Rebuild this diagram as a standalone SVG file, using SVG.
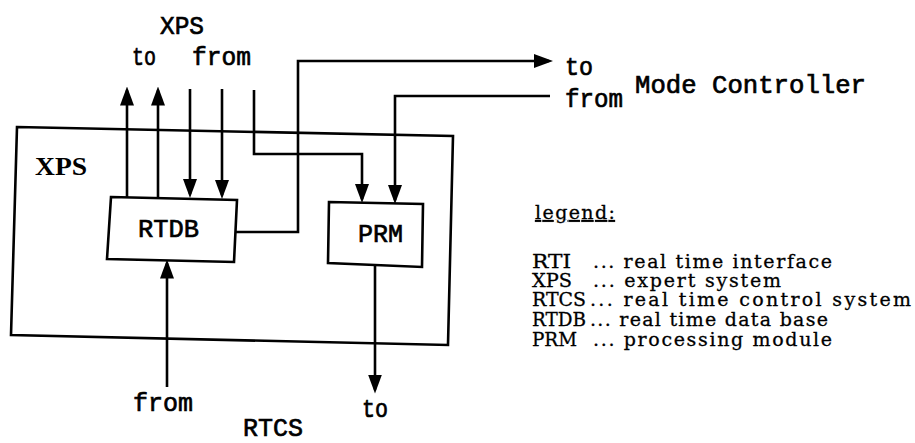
<svg xmlns="http://www.w3.org/2000/svg" width="915" height="443" viewBox="0 0 915 443">
<style>
  .box { fill: none; stroke: #000; stroke-width: 2.6; stroke-linejoin: miter; }
  .wire { fill: none; stroke: #000; stroke-width: 2.6; stroke-linejoin: miter; }
  .plot { font-family: "Liberation Mono", "DejaVu Sans Mono", monospace; font-size: 26px; font-weight: normal; fill: #000; stroke: #000; stroke-width: 0.7; }
  .ser { font-family: "DejaVu Serif", "Liberation Serif", serif; font-size: 19px; fill: #000; stroke: #000; stroke-width: 0.3; }
  .title { font-family: "Liberation Serif", serif; font-size: 26px; font-weight: bold; fill: #000; }
</style>
<defs>
  <marker id="ah" markerUnits="userSpaceOnUse" markerWidth="19" markerHeight="15" refX="15" refY="7.5" orient="auto">
    <path d="M0,0.5 L19,7.5 L0,14.5 Z" fill="#000"/>
  </marker>
</defs>
<rect width="915" height="443" fill="#fff"/>

<g id="xps-container">
  <polygon class="box" points="17,127 453,136 448,345 11,335"/>
  <text class="title" x="35" y="175" textLength="52" lengthAdjust="spacingAndGlyphs">XPS</text>
</g>

<g id="rtdb">
  <polygon class="box" points="111,197 237,200 234,262 107,259"/>
  <text class="plot" x="138" y="237" textLength="61" lengthAdjust="spacingAndGlyphs">RTDB</text>
</g>

<g id="prm">
  <polygon class="box" points="329,202 423,204 422,267 328,263"/>
  <text class="plot" x="358" y="242" textLength="45" lengthAdjust="spacingAndGlyphs">PRM</text>
</g>

<g id="xps-external">
  <text class="plot" x="160" y="34" textLength="44" lengthAdjust="spacingAndGlyphs">XPS</text>
  <text class="plot" x="132" y="65" textLength="24" lengthAdjust="spacingAndGlyphs">to</text>
  <text class="plot" x="192" y="65" textLength="59" lengthAdjust="spacingAndGlyphs">from</text>
</g>

<g id="mode-controller">
  <text class="plot" x="565" y="75" textLength="28" lengthAdjust="spacingAndGlyphs">to</text>
  <text class="plot" x="565" y="107" textLength="58" lengthAdjust="spacingAndGlyphs">from</text>
  <text class="plot" x="635" y="93" textLength="231" lengthAdjust="spacingAndGlyphs">Mode Controller</text>
</g>

<g id="rtcs">
  <text class="plot" x="133" y="411" textLength="60" lengthAdjust="spacingAndGlyphs">from</text>
  <text class="plot" x="362" y="417" textLength="26" lengthAdjust="spacingAndGlyphs">to</text>
  <text class="plot" x="243" y="436" font-size="24" textLength="60" lengthAdjust="spacingAndGlyphs">RTCS</text>
</g>

<g id="connectors">
  <path class="wire" d="M127,198 V90.5" marker-end="url(#ah)"/>
  <path class="wire" d="M158,199 V90.5" marker-end="url(#ah)"/>
  <path class="wire" d="M190,89 V194" marker-end="url(#ah)"/>
  <path class="wire" d="M222,89 V195" marker-end="url(#ah)"/>
  <path class="wire" d="M254,90 V154 H362 V199" marker-end="url(#ah)"/>
  <path class="wire" d="M236,232 H298 V61 H549" marker-end="url(#ah)"/>
  <path class="wire" d="M550,96 H395 V200" marker-end="url(#ah)"/>
  <path class="wire" d="M167,387 V263.5" marker-end="url(#ah)"/>
  <path class="wire" d="M375,266 V389.5" marker-end="url(#ah)"/>
</g>

<g id="legend">
  <text class="ser" x="535" y="219" textLength="80" lengthAdjust="spacing" text-decoration="underline">legend:</text>
  <text class="ser" x="532" y="268" textLength="39" lengthAdjust="spacingAndGlyphs">RTI</text>
  <text class="ser" x="593" y="268" textLength="239" lengthAdjust="spacing">... real time interface</text>
  <text class="ser" x="532" y="287" textLength="40" lengthAdjust="spacingAndGlyphs">XPS</text>
  <text class="ser" x="593" y="287" textLength="188" lengthAdjust="spacing">... expert system</text>
  <text class="ser" x="532" y="306" textLength="54" lengthAdjust="spacingAndGlyphs">RTCS</text>
  <text class="ser" x="590" y="306" textLength="321" lengthAdjust="spacing">... real time control system</text>
  <text class="ser" x="532" y="326" textLength="54" lengthAdjust="spacingAndGlyphs">RTDB</text>
  <text class="ser" x="590" y="326" textLength="238" lengthAdjust="spacing">... real time data base</text>
  <text class="ser" x="532" y="346" textLength="45" lengthAdjust="spacingAndGlyphs">PRM</text>
  <text class="ser" x="593" y="346" textLength="239" lengthAdjust="spacing">... processing module</text>
</g>
</svg>
